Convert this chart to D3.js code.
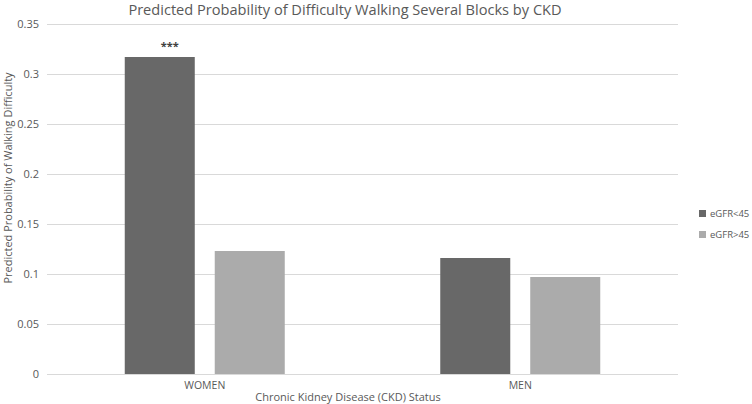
<!DOCTYPE html>
<html>
<head>
<meta charset="utf-8">
<script src="https://cdn.jsdelivr.net/npm/d3@7"></script>
<style>
  body { margin: 0; background: #fff; }
  svg text { font-family: "Open Sans", "Liberation Sans", sans-serif; fill: #595959; }
</style>
</head>
<body>
<div id="chart"></div>
<script>
// Chart data
var categories = ['WOMEN', 'MEN'];
var seriesNames = ['eGFR<45', 'eGFR>45'];
var seriesColours = ['#686868', '#ababab'];
var lowEgfr = [0.317, 0.116];
var highEgfr = [0.123, 0.097];
var yTicks = [0, 0.05, 0.1, 0.15, 0.2, 0.25, 0.3, 0.35];
var significance = ['***', ''];

function createChart() {
  var canvasWidth = 752;
  var canvasHeight = 404;

  var margin = { top: 24, right: 74, left: 47, bottom: 30 };

  var w = canvasWidth - margin.left - margin.right;
  var h = canvasHeight - margin.top - margin.bottom;

  var svg = d3.select('#chart')
    .append('svg')
    .attr('width', canvasWidth)
    .attr('height', canvasHeight);

  // Title
  svg.append('text')
    .attr('x', 345)
    .attr('y', 15)
    .attr('text-anchor', 'middle')
    .style('font-size', '14.6px')
    .text('Predicted Probability of Difficulty Walking Several Blocks by CKD');

  var inner = svg.append('g')
    .attr('transform', 'translate(' + margin.left + ',' + margin.top + ')');

  return [svg, inner, w, h, margin];
}

function renderBars(svg, inner, w, h, margin) {
  var yScale = d3.scaleLinear()
    .domain([0, 0.35])
    .range([h, 0]);

  var x0 = d3.scaleBand()
    .domain(categories)
    .range([0, w]);

  // Bars in each group are 70px wide with a 20px gap, centred in the band
  var x1 = d3.scaleBand()
    .domain(seriesNames)
    .range([x0.bandwidth() / 2 - 80, x0.bandwidth() / 2 + 80])
    .paddingInner(0.222);

  var colour = d3.scaleOrdinal()
    .domain(seriesNames)
    .range(seriesColours);

  // Gridlines
  inner.selectAll('line.grid')
    .data(yTicks)
    .enter()
    .append('line')
    .attr('class', 'grid')
    .attr('x1', 0)
    .attr('x2', w)
    .attr('y1', d => Math.round(yScale(d)) + 0.5)
    .attr('y2', d => Math.round(yScale(d)) + 0.5)
    .style('stroke', '#d9d9d9')
    .style('stroke-width', '1px');

  // Y axis labels
  var yAxis = d3.axisLeft(yScale)
    .tickValues(yTicks)
    .tickSize(0)
    .tickPadding(8)
    .tickFormat(d => d3.format('')(+d.toFixed(2)));

  inner.append('g')
    .call(yAxis)
    .call(g => g.select('.domain').remove())
    .selectAll('text')
    .style('font-size', '11px')
    .style('fill', '#595959');

  var rows = categories.map((c, i) => ({
    category: c,
    values: [
      { series: seriesNames[0], value: lowEgfr[i] },
      { series: seriesNames[1], value: highEgfr[i] }
    ],
    mark: significance[i]
  }));

  var groups = inner.selectAll('g.group')
    .data(rows)
    .enter()
    .append('g')
    .attr('class', 'group')
    .attr('transform', d => 'translate(' + x0(d.category) + ',0)');

  groups.selectAll('rect')
    .data(d => d.values)
    .enter()
    .append('rect')
    .attr('x', d => x1(d.series))
    .attr('width', x1.bandwidth())
    .attr('y', d => yScale(d.value))
    .attr('height', d => h - yScale(d.value))
    .style('fill', d => colour(d.series));

  // Significance stars above the first bar
  groups.append('text')
    .attr('x', x1(seriesNames[0]) + x1.bandwidth() / 2 + 10)
    .attr('y', d => yScale(d.values[0].value) - 7)
    .attr('text-anchor', 'middle')
    .style('font-size', '11px')
    .style('font-weight', 'bold')
    .style('fill', '#404040')
    .text(d => d.mark);

  // Category labels
  var xAxis = d3.axisBottom(x0)
    .tickSize(0)
    .tickPadding(8);

  inner.append('g')
    .attr('transform', 'translate(0,' + h + ')')
    .call(xAxis)
    .call(g => g.select('.domain').remove())
    .selectAll('text')
    .style('font-size', '10.5px')
    .style('fill', '#595959');

  // Axis titles
  svg.append('text')
    .attr('x', 348)
    .attr('y', 401)
    .attr('text-anchor', 'middle')
    .style('font-size', '11px')
    .text('Chronic Kidney Disease (CKD) Status');

  svg.append('text')
    .attr('transform', 'translate(11.5,178) rotate(-90)')
    .attr('text-anchor', 'middle')
    .style('font-size', '11px')
    .text('Predicted Probability of Walking Difficulty');

  // Legend
  var legend = svg.selectAll('g.legend')
    .data(seriesNames)
    .enter()
    .append('g')
    .attr('class', 'legend')
    .attr('transform', (d, i) => 'translate(699,' + (210 + i * 21) + ')');

  legend.append('rect')
    .attr('width', 7)
    .attr('height', 7)
    .style('fill', d => colour(d));

  legend.append('text')
    .attr('x', 11)
    .attr('y', 7)
    .style('font-size', '9.5px')
    .text(d => d);
}

function init() {
  var chart = createChart();
  renderBars(chart[0], chart[1], chart[2], chart[3], chart[4]);
}

window.onload = init;
</script>
</body>
</html>
